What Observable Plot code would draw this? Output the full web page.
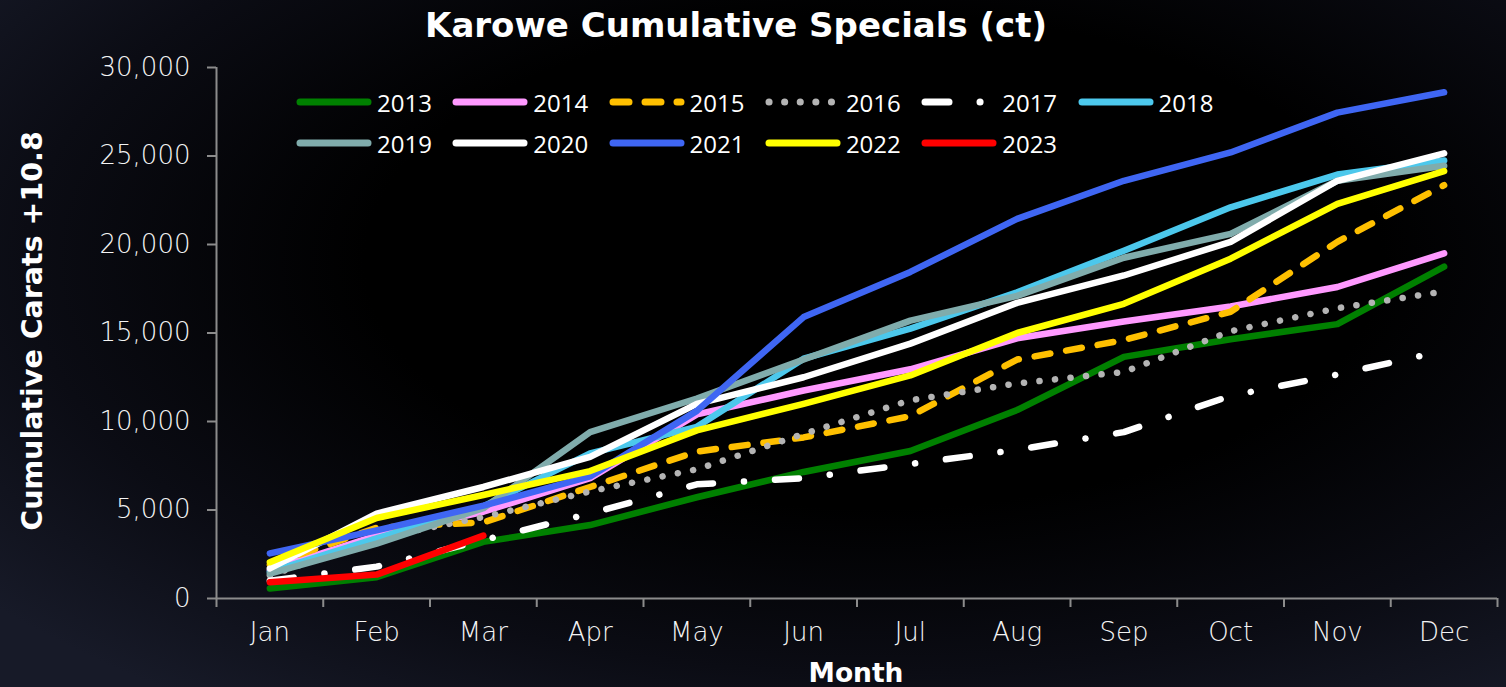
<!DOCTYPE html>
<html>
<head>
<meta charset="utf-8">
<script src="https://cdn.jsdelivr.net/npm/d3@7"></script>
<script src="https://cdn.jsdelivr.net/npm/@observablehq/plot@0.6"></script>
<style>
  html, body { margin: 0; padding: 0; background: #05060a; }
  #wrap {
    position: relative; width: 1506px; height: 687px; overflow: hidden;
    background: radial-gradient(ellipse 75% 80% at 58% 38%, #000000 45%, #0b0c14 75%, #171a28 100%);
    font-family: "DejaVu Sans", sans-serif; color: #fff;
  }
  #chart { position: absolute; left: 0; top: 0; }
  .title { position: absolute; left: 736px; top: 25px; transform: translate(-50%, -50%);
    white-space: nowrap; font-weight: bold; font-size: 34px; color: #fff; }
  .ylab { position: absolute; left: 32px; top: 331px; transform: translate(-50%, -50%) rotate(-90deg);
    white-space: nowrap; font-weight: bold; font-size: 28.5px; color: #fff; }
  .xlab { position: absolute; left: 856px; top: 672px; transform: translate(-50%, -50%);
    font-weight: bold; font-size: 26.5px; color: #fff; }
  .leg { position: absolute; display: flex; align-items: center; height: 30px;
    font-family: "Open Sans", sans-serif; font-size: 24px; color: #fff; }
  .leg svg { display: block; margin-right: 5px; }
</style>
</head>
<body>
<div id="wrap">
  <div id="chart"></div>
  <div class="title">Karowe Cumulative Specials (ct)</div>
  <div class="ylab">Cumulative Carats +10.8</div>
  <div class="xlab">Month</div>
</div>
<script>
// ---- data ----
const months = ["Jan","Feb","Mar","Apr","May","Jun","Jul","Aug","Sep","Oct","Nov","Dec"];
const years = ["2013","2014","2015","2016","2017","2018","2019","2020","2021","2022","2023"];
const yTicks = [0, 5000, 10000, 15000, 20000, 25000, 30000];

const v2013 = [565, 1200, 3200, 4150, 5720, 7150, 8330, 10650, 13650, 14650, 15500, 18750];
const v2014 = [1600, 3550, 4900, 6800, 10400, 11750, 12950, 14700, 15650, 16500, 17600, 19500];
const v2015 = [1900, 4000, 4300, 6300, 8300, 9100, 10300, 13500, 14600, 16200, 20150, 23350];
const v2016 = [1300, 3400, 4600, 6050, 7300, 9300, 11200, 12150, 12800, 15100, 16400, 17350];
const v2017 = [1000, 1800, 3300, 4800, 6450, 6800, 7600, 8400, 9400, 11450, 12650, 14000];
const v2018 = [1500, 3400, 5200, 8200, 9700, 13550, 15250, 17300, 19650, 22100, 23950, 24750];
const v2019 = [1400, 3100, 5100, 9400, 11300, 13500, 15700, 17100, 19250, 20600, 23600, 24450];
const v2020 = [1700, 4800, 6300, 8000, 11000, 12500, 14400, 16700, 18250, 20150, 23600, 25150];
const v2021 = [2550, 3850, 5250, 6900, 10600, 15900, 18450, 21450, 23600, 25200, 27450, 28600];
const v2022 = [2050, 4550, 5850, 7200, 9500, 11000, 12600, 15000, 16650, 19200, 22300, 24150];
const v2023 = [920, 1350, 3550];

const values = [v2013, v2014, v2015, v2016, v2017, v2018, v2019, v2020, v2021, v2022, v2023];

// ---- styles ----
const colors = ["#008000", "#ff99ff", "#ffc000", "#b4b4b4", "#ffffff", "#4cc8ec",
                "#80acac", "#ffffff", "#3f66f3", "#ffff00", "#ff0000"];
const dashes = [null, null, "16,16", "0.1,15.5", "24,31,0.1,31", null, null, null, null, null, null];
const SW = 6.5;

const monthIdx = months.map((m, i) => i + 1);
const bounds = d3.range(0, 13).map(i => i + 0.5);

const lines = values.map((vals, k) => Plot.line(vals, {
  x: (d, i) => i + 1,
  y: d => d,
  stroke: colors[k],
  strokeWidth: SW,
  strokeDasharray: dashes[k] || undefined,
  strokeLinecap: "round",
  strokeLinejoin: "round"
}));

const chart = Plot.plot({
  width: 1506,
  height: 687,
  marginLeft: 216,
  marginRight: 9,
  marginTop: 67,
  marginBottom: 89,
  style: { background: "transparent", color: "#ffffff", fontFamily: "DejaVu Sans" },
  x: { domain: [0.5, 12.5] },
  y: { domain: [0, 30000] },
  marks: [
    Plot.axisY({ ticks: yTicks, tickFormat: d3.format(","), tickSize: 9, tickPadding: 17,
      fontSize: 26, fontWeight: 300, label: null, stroke: "#8c8c8c", strokeWidth: 2, fill: "#f4f4f4" }),
    Plot.axisX({ ticks: bounds, tickFormat: () => "", tickSize: 9, label: null,
      stroke: "#8c8c8c", strokeWidth: 2 }),
    Plot.axisX({ ticks: monthIdx, tickFormat: d => months[d - 1], tickSize: 0, tickPadding: 24,
      fontSize: 26, fontWeight: 300, label: null, fill: "#f4f4f4" }),
    Plot.ruleY([0], { stroke: "#8c8c8c", strokeWidth: 2 }),
    Plot.ruleX([0.5], { stroke: "#8c8c8c", strokeWidth: 2 }),
    ...lines
  ]
});
document.getElementById("chart").appendChild(chart);

// ---- legend (HTML overlay) ----
const wrap = document.getElementById("wrap");
years.forEach((yr, k) => {
  const row = Math.floor(k / 6), col = k % 6;
  const item = document.createElement("div");
  item.className = "leg";
  item.style.left = (296 + col * 156.3) + "px";
  item.style.top = (102 + row * 41 - 15) + "px";
  const ns = "http://www.w3.org/2000/svg";
  const svg = document.createElementNS(ns, "svg");
  svg.setAttribute("width", 76); svg.setAttribute("height", 12);
  const ln = document.createElementNS(ns, "line");
  ln.setAttribute("x1", 4); ln.setAttribute("x2", 72);
  ln.setAttribute("y1", 6); ln.setAttribute("y2", 6);
  ln.setAttribute("stroke", colors[k]);
  ln.setAttribute("stroke-width", 7);
  ln.setAttribute("stroke-linecap", "round");
  if (dashes[k]) ln.setAttribute("stroke-dasharray", dashes[k]);
  svg.appendChild(ln);
  item.appendChild(svg);
  const t = document.createElement("span");
  t.textContent = yr;
  item.appendChild(t);
  wrap.appendChild(item);
});
</script>
</body>
</html>
